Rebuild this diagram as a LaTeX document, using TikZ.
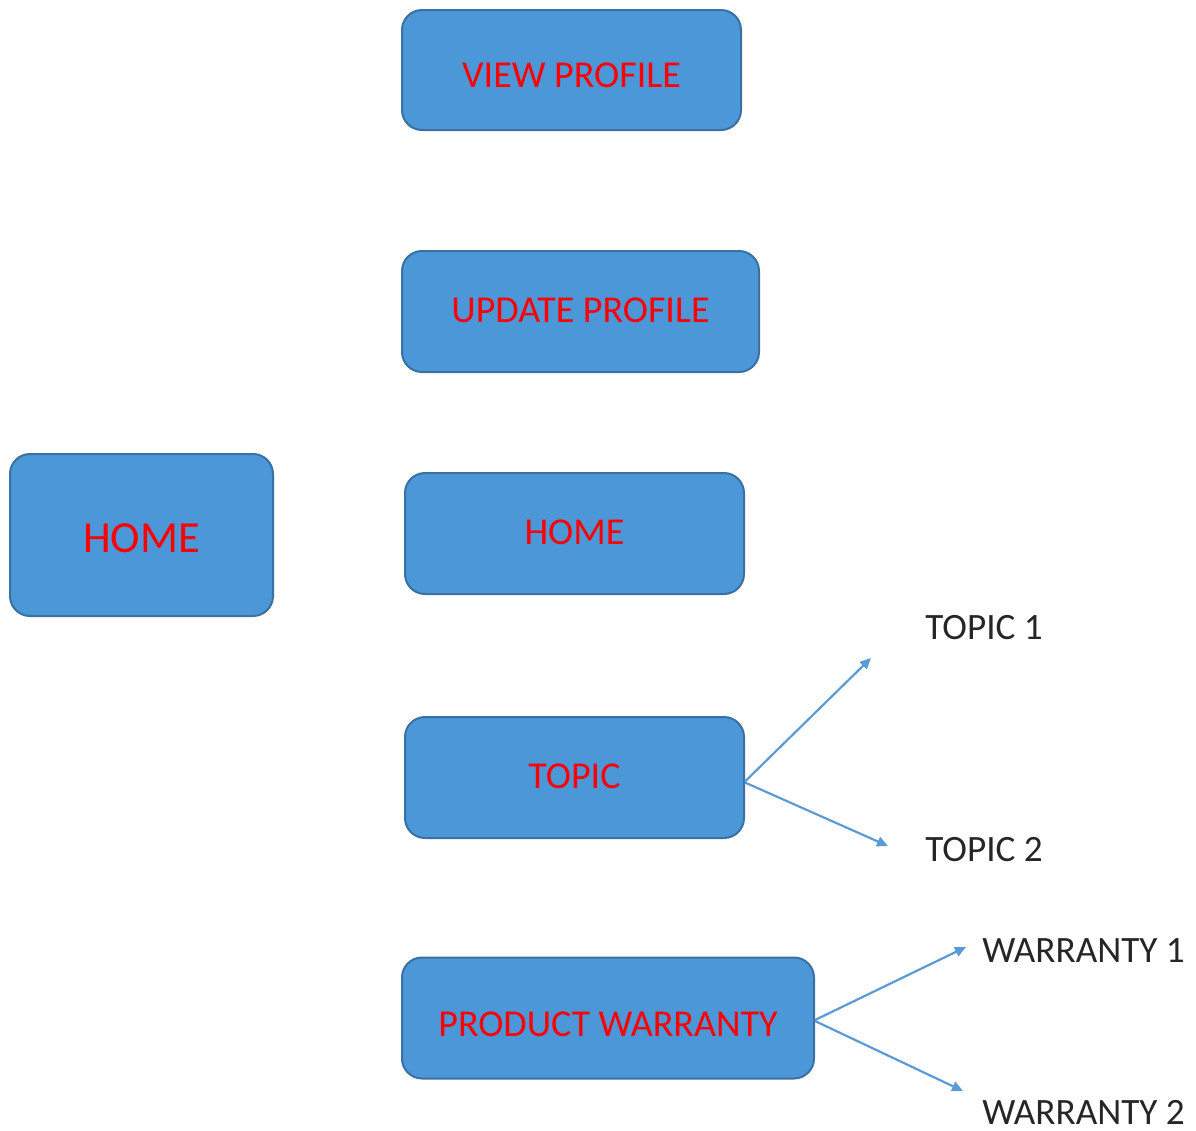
\documentclass[tikz,border=0pt]{standalone}
\usepackage{fontspec}
\setmainfont{Carlito}
\usetikzlibrary{arrows.meta}
\definecolor{boxfill}{HTML}{4C97D8}
\definecolor{boxedge}{HTML}{3A70A2}
\definecolor{linkblue}{HTML}{5B9BD5}
\definecolor{menured}{HTML}{FF0000}
\tikzset{
  menubox/.style={draw=boxedge, fill=boxfill, line width=1pt, rounded corners=10pt,
    text=menured, font=\fontsize{19}{23}\selectfont, inner sep=0pt, minimum height=60.5pt,
    text height=12pt, text depth=0pt},
  subitem/.style={text=black!85, font=\fontsize{18.6}{22}\selectfont, inner sep=0pt, anchor=west},
  link/.style={draw=linkblue, line width=1.1pt, -{Triangle[length=5.5pt,width=5pt]}}
}
\begin{document}
\begin{tikzpicture}[x=0.5pt, y=-0.5pt]
\useasboundingbox (0,0) rectangle (1196,1131);
% left-hand home entry
\node[menubox, minimum width=131.5pt, minimum height=81pt, font=\fontsize{22.2}{27}\selectfont,
  text height=17.5pt] (homeL) at (141.5,535) {HOME};
% menu column
\node[menubox, minimum width=169.5pt, minimum height=60pt, text height=17pt] (view) at (571.5,70) {VIEW PROFILE};
\node[menubox, minimum width=178.5pt, text depth=1.5pt] (update) at (580.5,311.5) {UPDATE PROFILE};
\node[menubox, minimum width=169.5pt, text depth=1.5pt] (home) at (574.5,533.5) {HOME};
\node[menubox, minimum width=169.5pt, text depth=1pt] (topic) at (574.5,777.5) {TOPIC};
\node[menubox, minimum width=206pt, text height=18pt] (warranty) at (608,1018) {PRODUCT WARRANTY};
% sub-items
\node[subitem] (t1) at (925,628) {TOPIC 1};
\node[subitem] (t2) at (925,850) {TOPIC 2};
\node[subitem] (w1) at (982,951) {WARRANTY 1};
\node[subitem] (w2) at (982,1112) {WARRANTY 2};
% arrow ends
\coordinate (t1end) at (871,658);
\coordinate (t2end) at (888,846);
\coordinate (w1end) at (966,947);
\coordinate (w2end) at (963,1091);
\draw[link] ([yshift=-2pt]topic.east) -- (t1end);
\draw[link] ([yshift=-2.5pt]topic.east) -- (t2end);
\draw[link] ([yshift=-1pt]warranty.east) -- (w1end);
\draw[link] ([yshift=-1.5pt]warranty.east) -- (w2end);
\end{tikzpicture}
\end{document}
